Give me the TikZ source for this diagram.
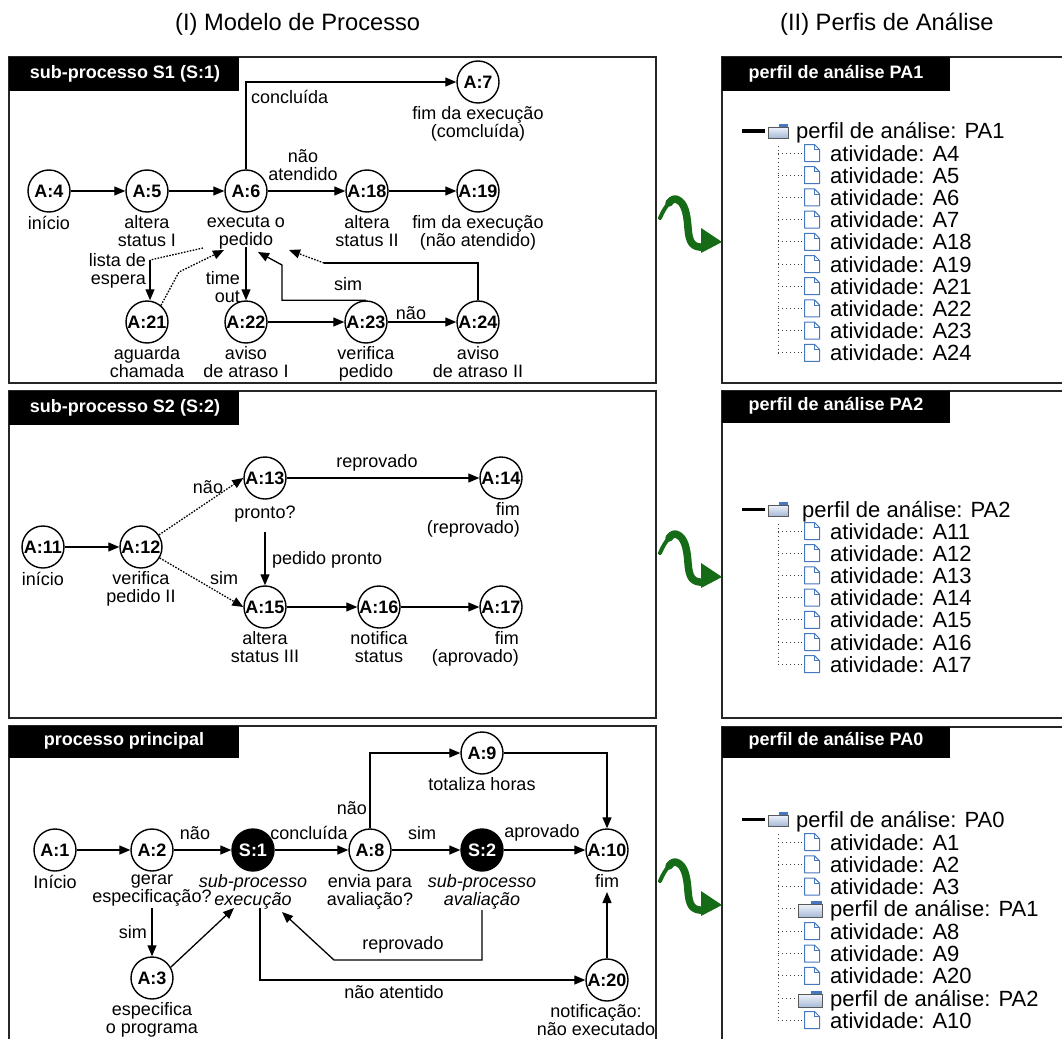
\documentclass[tikz,border=0pt]{standalone}
\usepackage{fontspec}
\setmainfont{Liberation Sans}
\usetikzlibrary{arrows.meta}
\definecolor{arrowgreen}{RGB}{22,108,22}
\definecolor{iconblue}{RGB}{70,120,190}
\definecolor{foldertop}{RGB}{240,244,250}
\definecolor{folderbot}{RGB}{165,185,215}
\begin{document}
\begin{tikzpicture}[x=1pt,y=-1pt,
  act/.style={circle,draw,line width=1.4pt,fill=white,minimum size=42pt,inner sep=0pt,font=\fontsize{18}{18}\selectfont\bfseries},
  sact/.style={act,fill=black,text=white},
  lbl/.style={font=\fontsize{18}{18}\selectfont,align=center,inner sep=0pt,anchor=north},
  ilbl/.style={lbl,font=\fontsize{18}{18}\selectfont\itshape},
  elbl/.style={font=\fontsize{18}{18}\selectfont,inner sep=0pt,align=center},
  flow/.style={line width=1.3pt,-{Triangle[length=11pt,width=9pt]}},
  dflow/.style={flow,dash pattern=on 1.6pt off 1.4pt},
  dline/.style={line width=1.3pt,dash pattern=on 1.6pt off 1.4pt},
  plainline/.style={line width=1.3pt},
  panel/.style={draw=black!85,line width=1.4pt},
  bartxt/.style={text=white,font=\fontsize{18}{18}\selectfont\bfseries,inner sep=0pt},
  treetxt/.style={font=\fontsize{22}{22}\selectfont,anchor=base west,inner sep=0pt},
  treeline/.style={line width=0.9pt,dash pattern=on 0.9pt off 3pt,black!75},
  hdr/.style={font=\fontsize{23.7}{24}\selectfont,anchor=west,inner sep=0pt},
  fileicon/.pic={
    \draw[iconblue,line width=1pt,fill=white,line join=round] (-7.5,-8.5) -- (2.5,-8.5) -- (7.5,-3.5) -- (7.5,8.5) -- (-7.5,8.5) -- cycle;
    \draw[iconblue,line width=0.7pt] (2.5,-8.5) -- (2.5,-3.5) -- (7.5,-3.5);
  },
  folderico/.pic={
    \draw[black!65,line width=0.8pt,top color=foldertop,bottom color=folderbot] (-10,-4) rectangle (10,7);
    \fill[iconblue] (1,-7) rectangle (10,-4);
  },
  greenarrow/.pic={
    \draw[arrowgreen,line width=4pt,line cap=round] (-62,-24) .. controls (-59,-31) and (-56,-36) .. (-52,-40);
    \draw[arrowgreen,line width=7.5pt,line cap=round,line join=round] (-53,-39) .. controls (-50,-43) and (-47,-44) .. (-44,-42) .. controls (-38,-39) and (-35,-30) .. (-34,-14) .. controls (-33,0) and (-30,6) .. (-18,5);
    \fill[arrowgreen] (-21,-14) -- (0,0) -- (-21,11) -- cycle;
  }
]
\useasboundingbox (0,0) rectangle (1062,1038);
\clip (0,0) rectangle (1062,1038);

% headers
\node[hdr] (h1) at (175,24) {(I) Modelo de Processo};
\node[hdr] (h2) at (780,24) {(II) Perfis de Análise};

% ================= panels =================
\draw[panel] (9,57) rectangle (656,383);
\fill (9,57) rectangle (239,91);
\node[bartxt] (b1) at (125,74) {sub-processo S1 (S:1)};
\draw[panel] (9,391) rectangle (656,718);
\fill (9,391) rectangle (239,425);
\node[bartxt] (b2) at (125,408) {sub-processo S2 (S:2)};
\draw[panel] (9,726) rectangle (656,1050);
\fill (9,726) rectangle (239,758);
\node[bartxt] (b3) at (124,741) {processo principal};

\draw[panel] (722,57) rectangle (1075,383);
\fill (722,57) rectangle (950,91);
\node[bartxt] (rb1) at (836,74) {perfil de análise PA1};
\draw[panel] (722,391) rectangle (1075,718);
\fill (722,391) rectangle (950,423);
\node[bartxt] (rb2) at (836,406) {perfil de análise PA2};
\draw[panel] (722,727) rectangle (1075,1050);
\fill (722,727) rectangle (950,758);
\node[bartxt] (rb3) at (836,741) {perfil de análise PA0};

% green arrows
\pic (g1) at (722,242) {greenarrow};
\pic (g2) at (722,577) {greenarrow};
\pic (g3) at (722,905) {greenarrow};

% ================= sub-processo S1 =================
\node[act] (A4) at (49,191) {A:4};
\node[act] (A5) at (147,191) {A:5};
\node[act] (A6) at (246,191) {A:6};
\node[act] (A18) at (367,191) {A:18};
\node[act] (A19) at (478,191) {A:19};
\node[act] (A7) at (478,82) {A:7};
\node[act] (A21) at (147,322) {A:21};
\node[act] (A22) at (246,322) {A:22};
\node[act] (A23) at (366,322) {A:23};
\node[act] (A24) at (478,322) {A:24};

\node[lbl] (A4l) at ([yshift=-3pt]A4.south) {início};
\node[lbl] (A5l) at ([yshift=-3pt]A5.south) {altera\\status I};
\node[lbl] (A6l) at ([yshift=-3pt]A6.south) {executa o\\pedido};
\node[lbl] (A18l) at ([yshift=-3pt]A18.south) {altera\\status II};
\node[lbl] (A19l) at ([yshift=-3pt]A19.south) {fim da execução\\(não atendido)};
\node[lbl] (A7l) at ([yshift=-3pt]A7.south) {fim da execução\\(comcluída)};
\node[lbl] (A21l) at ([yshift=-3pt]A21.south) {aguarda\\chamada};
\node[lbl] (A22l) at ([yshift=-3pt]A22.south) {aviso\\de atraso I};
\node[lbl] (A23l) at ([yshift=-3pt]A23.south) {verifica\\pedido};
\node[lbl] (A24l) at ([yshift=-3pt]A24.south) {aviso\\de atraso II};

\draw[flow] (A4) -- (A5);
\draw[flow] (A5) -- (A6);
\draw[flow] (A6) -- (A18);
\draw[flow] (A18) -- (A19);
\draw[flow] (A6.north) |- (A7.west);
\node[elbl,anchor=west] (c1) at (251,97) {concluída};
\node[elbl] (c2) at (303,165) {não\\atendido};

\coordinate (le1) at (203,248);
\coordinate (le2) at (150,260);
\draw[dline] (le1) -- (le2);
\draw[flow] (le2) -- (le2 |- A21.north);
\node[elbl,align=right,anchor=east] (c3) at (146,271) {lista de\\espera};

\coordinate (r1) at (179,272);
\coordinate (r2) at (224,250);
\draw[dflow] (A21.50) -- (r1) -- (r2);

\coordinate (e1) at (246,247);
\draw[flow] (e1) -- (A22.north);
\node[elbl,align=right,anchor=east] (c4) at (240,287) {time\\out};

\draw[flow] (A22) -- (A23);
\draw[flow] (A23) -- (A24);
\node[elbl] (c5) at (411,313) {não};

\coordinate (s1) at (282,265);
\coordinate (s2) at (258,252);
\draw[flow] (A23.north) -| (s1) -- (s2);
\node[elbl] (c6) at (348,284) {sim};

\coordinate (t1) at (324,263);
\coordinate (t2) at (289,250);
\draw[plainline] (A24.north) |- (t1);
\draw[dflow] (t1) -- (t2);

% ================= sub-processo S2 =================
\node[act] (A11) at (43,547) {A:11};
\node[act] (A12) at (141,547) {A:12};
\node[act] (A13) at (265,478) {A:13};
\node[act] (A14) at (501,478) {A:14};
\node[act] (A15) at (265,607) {A:15};
\node[act] (A16) at (379,607) {A:16};
\node[act] (A17) at (501,607) {A:17};

\node[lbl] (A11l) at ([yshift=-3pt]A11.south) {início};
\node[lbl] (A12l) at ([yshift=-3pt]A12.south) {verifica\\pedido II};
\node[lbl] (A13l) at ([yshift=-6pt]A13.south) {pronto?};
\node[lbl,align=right,anchor=north east] (A14l) at (520,502) {fim\\(reprovado)};
\node[lbl] (A15l) at ([yshift=-3pt]A15.south) {altera\\status III};
\node[lbl] (A16l) at ([yshift=-3pt]A16.south) {notifica\\status};
\node[lbl,align=right,anchor=north east] (A17l) at (519,631) {fim\\(aprovado)};

\draw[flow] (A11) -- (A12);
\draw[dflow] (A12) -- (A13.west);
\draw[dflow] (A12) -- (A15.west);
\node[elbl] (d1) at (208,487) {não};
\node[elbl] (d2) at (224,578) {sim};
\draw[flow] (A13) -- (A14);
\node[elbl] (d3) at (377,463) {reprovado};
\coordinate (p1) at (265,532);
\draw[flow] (p1) -- (A15.north);
\node[elbl,anchor=west] (d4) at (272,560) {pedido pronto};
\draw[flow] (A15) -- (A16);
\draw[flow] (A16) -- (A17);

% ================= processo principal =================
\node[act] (A1) at (55,850) {A:1};
\node[act] (A2) at (152,850) {A:2};
\node[sact] (S1) at (253,850) {S:1};
\node[act] (A8) at (370,850) {A:8};
\node[sact] (S2) at (482,850) {S:2};
\node[act] (A10) at (607,850) {A:10};
\node[act] (A9) at (482,753) {A:9};
\node[act] (A3) at (152,978) {A:3};
\node[act] (A20) at (607,980) {A:20};

\node[lbl] (A1l) at ([yshift=-3pt]A1.south) {Início};
\node[lbl] (A2l) at ([yshift=-3pt]A2.south) {gerar\\especificação?};
\node[ilbl] (S1l) at ([yshift=-3pt]S1.south) {sub-processo\\execução};
\node[lbl] (A8l) at ([yshift=-3pt]A8.south) {envia para\\avaliação?};
\node[ilbl] (S2l) at ([yshift=-3pt]S2.south) {sub-processo\\avaliação};
\node[lbl] (A10l) at ([yshift=-3pt]A10.south) {fim};
\node[lbl] (A9l) at ([yshift=-3pt]A9.south) {totaliza horas};
\node[lbl] (A3l) at ([yshift=-3pt]A3.south) {especifica\\o programa};
\node[lbl] (A20l) at (596,1004) {notificação:\\não executado};

\draw[flow] (A1) -- (A2);
\draw[flow] (A2) -- (S1);
\node[elbl] (m1) at (195,833) {não};
\draw[flow] (S1) -- (A8);
\node[elbl] (m2) at (309,833) {concluída};
\draw[flow] (A8) -- (S2);
\node[elbl] (m3) at (422,833) {sim};
\draw[flow] (S2) -- (A10);
\node[elbl] (m4) at (542,833) {aprovado};
\draw[flow] (A8.north) |- (A9.west);
\node[elbl,anchor=east] (m5) at (367,808) {não};
\draw[flow] (A9.east) -| (A10.north);

\coordinate (g1) at (152,908);
\draw[flow] (g1) -- (A3.north);
\node[elbl,anchor=east] (m6) at (147,932) {sim};
\coordinate (x1) at (234,908);
\draw[flow] (A3.30) -- (x1);

\coordinate (rv1) at (482,910);
\coordinate (rv2) at (334,960);
\coordinate (rv3) at (282,912);
\draw[flow] (rv1) |- (rv2) -- (rv3);
\node[elbl] (m7) at (403,945) {reprovado};

\coordinate (na1) at (260,908);
\draw[flow] (na1) |- (A20.west);
\node[elbl] (m8) at (394,992) {não atentido};

\coordinate (f1) at (607,892);
\draw[flow] (A20.north) -- (f1);

% ================= tree PA1 =================
\draw[line width=3pt] (742,131) -- (765,131);
\pic (fo1) at (778,131) {folderico};
\node[treetxt] (tr1) at (796,139) {perfil de análise: PA1};
\draw[treeline] (778,146) -- (778,353);
\foreach \n [count=\i from 0] in {A4,A5,A6,A7,A18,A19,A21,A22,A23,A24} {
  \pgfmathsetmacro\yy{153+22.2*\i}
  \draw[treeline] (778,\yy) -- (802,\yy);
  \pic (fa\i) at (812,\yy) {fileicon};
  \node[treetxt] (ta\i) at (830,\yy+8) {atividade: \n};
}

% ================= tree PA2 =================
\draw[line width=3pt] (742,509) -- (765,509);
\pic (fo2) at (778,509) {folderico};
\node[treetxt] (tr2) at (802,517) {perfil de análise: PA2};
\draw[treeline] (778,524) -- (778,664);
\foreach \n [count=\i from 0] in {A11,A12,A13,A14,A15,A16,A17} {
  \pgfmathsetmacro\yy{531+22.2*\i}
  \draw[treeline] (778,\yy) -- (802,\yy);
  \pic (fb\i) at (812,\yy) {fileicon};
  \node[treetxt] (tb\i) at (830,\yy+8) {atividade: \n};
}

% ================= tree PA0 =================
\draw[line width=3pt] (742,819) -- (765,819);
\pic (fo3) at (778,819) {folderico};
\node[treetxt] (tr3) at (796,827) {perfil de análise: PA0};
\draw[treeline] (778,834) -- (778,1020);
\foreach \n [count=\i from 0] in {A1,A2,A3} {
  \pgfmathsetmacro\yy{842+22.3*\i}
  \draw[treeline] (778,\yy) -- (802,\yy);
  \pic (fc\i) at (812,\yy) {fileicon};
  \node[treetxt] (tc\i) at (830,\yy+8) {atividade: \n};
}
\draw[treeline] (778,908) -- (796,908);
\pic[scale=1.2] (fo4) at (810,909) {folderico};
\node[treetxt] (tp1) at (830,916) {perfil de análise: PA1};
\foreach \n [count=\i from 4] in {A8,A9,A20} {
  \pgfmathsetmacro\yy{842+22.3*\i}
  \draw[treeline] (778,\yy) -- (802,\yy);
  \pic (fd\i) at (812,\yy) {fileicon};
  \node[treetxt] (td\i) at (830,\yy+8) {atividade: \n};
}
\draw[treeline] (778,998) -- (796,998);
\pic[scale=1.2] (fo5) at (810,999) {folderico};
\node[treetxt] (tp2) at (830,1006) {perfil de análise: PA2};
\draw[treeline] (778,1020) -- (802,1020);
\pic (fe8) at (812,1020) {fileicon};
\node[treetxt] (te8) at (830,1028) {atividade: A10};

\end{tikzpicture}
\end{document}
